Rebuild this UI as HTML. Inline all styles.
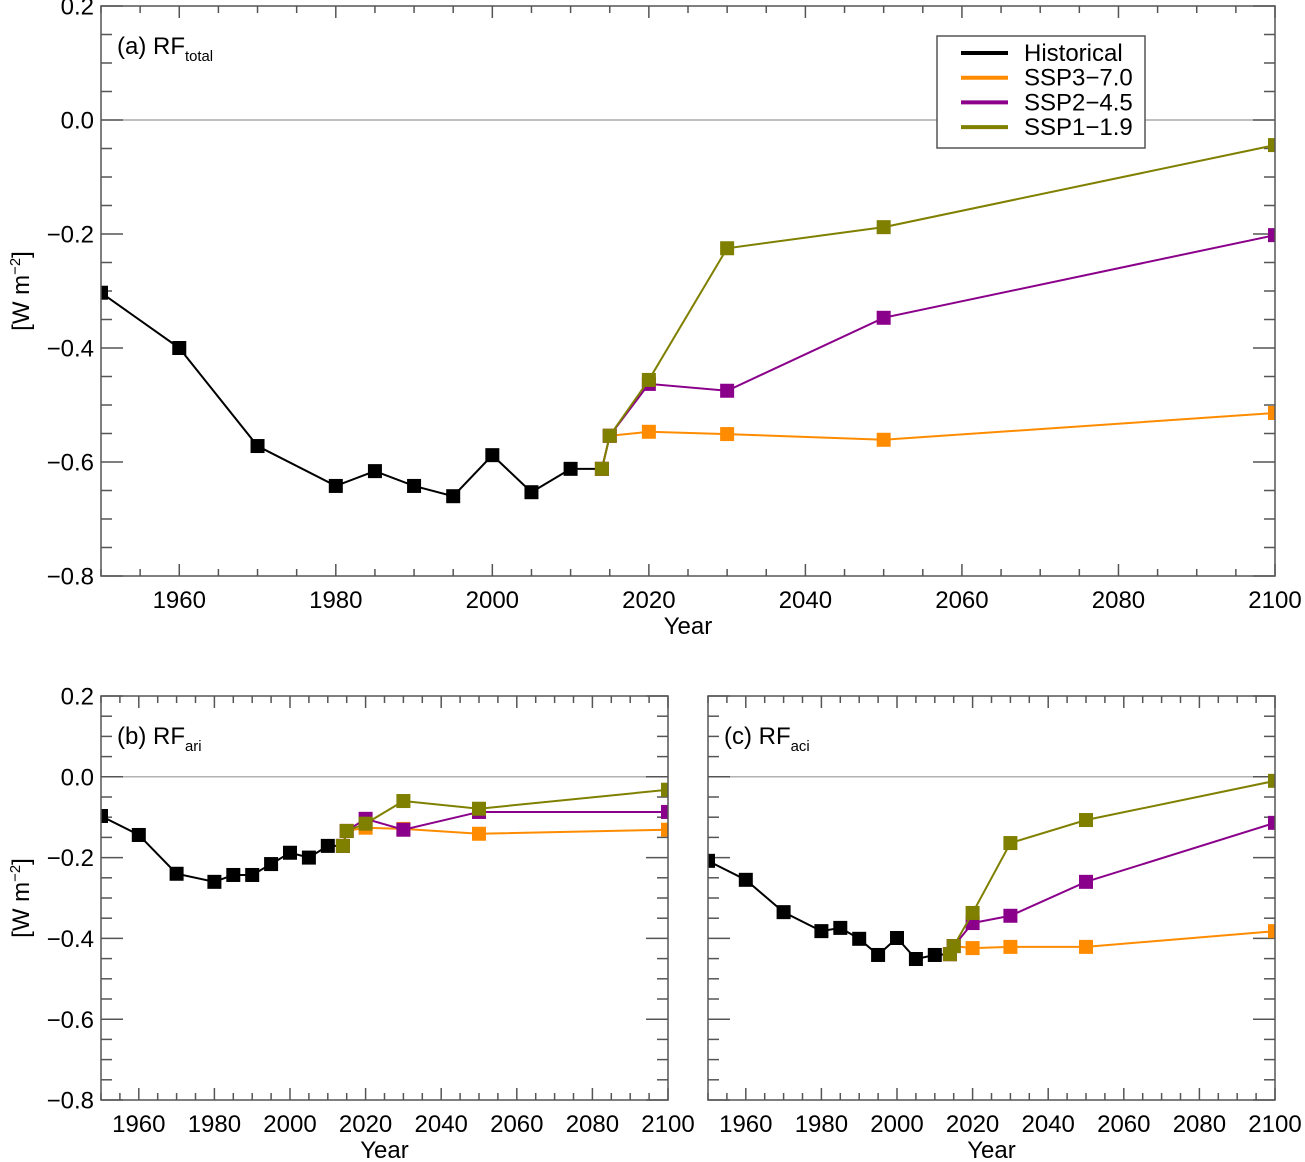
<!DOCTYPE html>
<html><head><meta charset="utf-8"><style>
body{margin:0;background:#fff;}
svg{display:block;font-family:"Liberation Sans",Arial,sans-serif;}
</style></head><body>
<svg id="fig" width="1305" height="1162" viewBox="0 0 1305 1162"></svg>
<script>
// ---- data ----
const histYears = [1950,1960,1970,1980,1985,1990,1995,2000,2005,2010];
const futYears = [2014,2015,2020,2030,2050,2100];
const scenNames = ["SSP3-7.0","SSP2-4.5","SSP1-1.9"];
const scenColors = ["#ff8c00","#8b008b","#808000"];
// panel a
const aHist = [-0.303,-0.400,-0.572,-0.642,-0.616,-0.642,-0.660,-0.588,-0.653,-0.612];
const aSSP3 = [-0.612,-0.554,-0.547,-0.551,-0.561,-0.514];
const aSSP2 = [-0.612,-0.554,-0.463,-0.475,-0.347,-0.202];
const aSSP1 = [-0.612,-0.554,-0.456,-0.225,-0.188,-0.044];
// panel b
const bHist = [-0.097,-0.144,-0.240,-0.260,-0.243,-0.243,-0.216,-0.188,-0.200,-0.171];
const bSSP3 = [-0.171,-0.134,-0.126,-0.129,-0.141,-0.131];
const bSSP2 = [-0.171,-0.134,-0.104,-0.131,-0.087,-0.087];
const bSSP1 = [-0.171,-0.134,-0.116,-0.060,-0.079,-0.032];
// panel c
const cHist = [-0.208,-0.255,-0.335,-0.382,-0.374,-0.401,-0.441,-0.399,-0.451,-0.441];
const cSSP3 = [-0.439,-0.419,-0.424,-0.421,-0.421,-0.382];
const cSSP2 = [-0.439,-0.419,-0.362,-0.344,-0.260,-0.114];
const cSSP1 = [-0.439,-0.419,-0.337,-0.164,-0.107,-0.010];
const yTicks = [0.2,0.0,-0.2,-0.4,-0.6,-0.8];
const yTickLabels = ["0.2","0.0","\u22120.2","\u22120.4","\u22120.6","\u22120.8"];
const xTicks = [1960,1980,2000,2020,2040,2060,2080,2100];

const NS="http://www.w3.org/2000/svg";
const svg=document.getElementById('fig');
function mk(tag,attrs,parent){const e=document.createElementNS(NS,tag);for(const k in attrs)e.setAttribute(k,attrs[k]);(parent||svg).appendChild(e);return e;}

function panel(id,x0,x1,y0,y1,fs,titleMain,titleSub,hist,ssps,showY){
  const g=mk('g',{});
  
  
  const sx=v=>x0+(v-1950)/150*(x1-x0);
  const sy=v=>y1-(v+0.8)/1.0*(y1-y0);
  const z=mk('line',{x1:x0,x2:x1,y1:sy(0),y2:sy(0),stroke:'#999','stroke-width':1.2},g);
  
  
  for(let v=-0.8;v<=0.2001;v+=0.05){
    const major=Math.abs(Math.round(v*100)%20)<0.5;
    const L=major?22:11;const y=sy(v);
    mk('line',{x1:x0,x2:x0+L,y1:y,y2:y,stroke:'#555','stroke-width':1.5},g);
    mk('line',{x1:x1,x2:x1-L,y1:y,y2:y,stroke:'#555','stroke-width':1.5},g);
  }
  for(let yr=1950;yr<=2100;yr+=5){
    const major=(yr%20===0);const L=major?12:7;const x=sx(yr);
    mk('line',{x1:x,x2:x,y1:y1,y2:y1-L,stroke:'#555','stroke-width':1.5},g);
    mk('line',{x1:x,x2:x,y1:y0,y2:y0+L,stroke:'#555','stroke-width':1.5},g);
  }
  if(showY){
    yTicks.forEach((v,i)=>{
      const t=mk('text',{x:x0-7,y:sy(v)+fs*0.36,'text-anchor':'end','font-size':fs},g);
      t.textContent=yTickLabels[i];
      
      
    });
    const yt=mk('text',{transform:`translate(29,${(y0+y1)/2}) rotate(-90)`,'text-anchor':'middle','font-size':fs},g);
    yt.innerHTML='[W m<tspan dy="-9" font-size="'+(fs*0.62)+'">\u22122</tspan><tspan dy="9">]</tspan>';
    
    
  }
  xTicks.forEach(v=>{
    const t=mk('text',{x:sx(v),y:y1+32,'text-anchor':'middle','font-size':fs},g);
    t.textContent=v;
    
    
  });
  const xt=mk('text',{x:(x0+x1)/2,y:y1+58,'text-anchor':'middle','font-size':fs},g);
  xt.textContent='Year';
  
  
  const tt=mk('text',{x:x0+16,y:y0+48,'font-size':fs},g);
  tt.innerHTML=titleMain+'<tspan dy="7" font-size="'+(fs*0.62)+'">'+titleSub+'</tspan>';
  
  
  const clipId='clip'+id;
  const cp=mk('clipPath',{id:clipId},g);
  mk('rect',{x:x0,y:y0,width:x1-x0,height:y1-y0},cp);
  const dg=mk('g',{'clip-path':`url(#${clipId})`},g);
  const hp=histYears.map((yr,i)=>`${sx(yr)},${sy(hist[i])}`);
  hp.push(`${sx(futYears[0])},${sy(ssps[0][0])}`);
  const hl=mk('polyline',{points:hp.join(' '),fill:'none',stroke:'#000','stroke-width':2},dg);
  
  
  histYears.forEach((yr,i)=>{
    const r=mk('rect',{x:sx(yr)-7,y:sy(hist[i])-7,width:14,height:14,fill:'#000'},dg);
    
    
  });
  ssps.forEach((vals,s)=>{
    const p=futYears.map((yr,i)=>`${sx(yr)},${sy(vals[i])}`).join(' ');
    const l=mk('polyline',{points:p,fill:'none',stroke:scenColors[s],'stroke-width':2},dg);
    
    
    futYears.forEach((yr,i)=>{
      const r=mk('rect',{x:sx(yr)-7,y:sy(vals[i])-7,width:14,height:14,fill:scenColors[s]},dg);
      
      
    });
  });
  const fr=mk('rect',{x:x0,y:y0,width:x1-x0,height:y1-y0,fill:'none',stroke:'#555','stroke-width':1.5},g);
  
  
  return g;
}
panel('a',101,1275,6,576,24,'(a) RF','total',aHist,[aSSP3,aSSP2,aSSP1],true);
panel('b',101,668,696,1100,24,'(b) RF','ari',bHist,[bSSP3,bSSP2,bSSP1],true);
panel('c',708,1275,696,1100,24,'(c) RF','aci',cHist,[cSSP3,cSSP2,cSSP1],false);

const lg=mk('g',{});


mk('rect',{x:937,y:36,width:208,height:112,fill:'#fff',stroke:'#555','stroke-width':1.5},lg);
const legNames=["Historical"].concat(scenNames.map(n=>n.replace('-','\u2212')));
const legCols=["#000"].concat(scenColors);
legNames.forEach((n,i)=>{
  const y=53+i*24.7;
  const e=mk('g',{},lg);
  
  
  mk('line',{x1:961,x2:1008,y1:y,y2:y,stroke:legCols[i],'stroke-width':4},e);
  const t=mk('text',{x:1024,y:y+8,'font-size':24},e);
  t.textContent=n;
});
</script>
</body></html>
